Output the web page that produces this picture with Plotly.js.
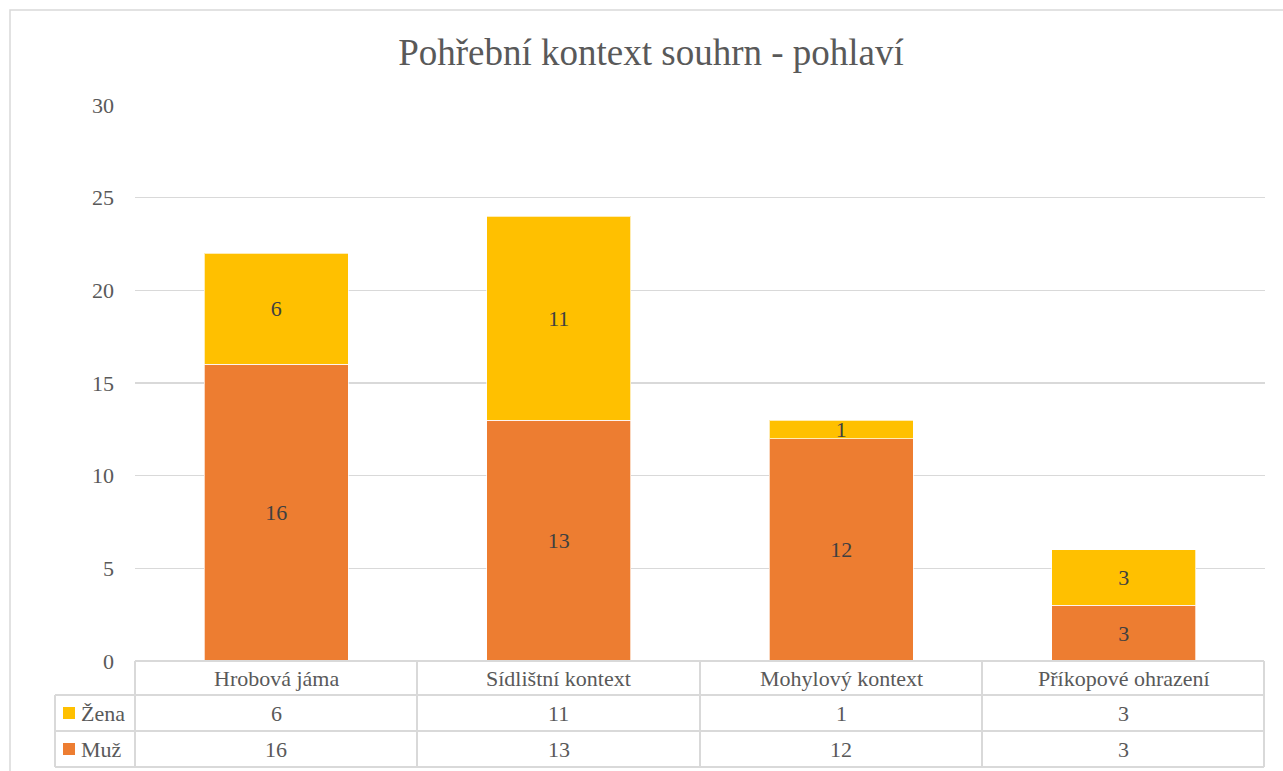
<!DOCTYPE html>
<html>
<head>
<meta charset="utf-8">
<script src="https://cdn.plot.ly/plotly-3.0.1.min.js"></script>
<style>html,body{margin:0;padding:0;background:#fff;}#chart{width:1283px;height:771px;}</style>
</head>
<body>
<div id="chart"></div>
<script>
const categories = ["Hrobová jáma", "Sídlištní kontext", "Mohylový kontext", "Příkopové ohrazení"];
const seriesNames = ["Žena", "Muž"];
const zena = [6, 11, 1, 3];
const muz = [16, 13, 12, 3];
const yTicks = [0, 5, 10, 15, 20, 25, 30];
const titleText = "Pohřební kontext souhrn - pohlaví";

const colors = { zena: "#FFC000", muz: "#ED7D31", text: "#595959", grid: "#D9D9D9", label: "#404040" };
const FONT = "'Liberation Serif', 'Times New Roman', Tinos, 'DejaVu Serif', serif";

const W = 1283, H = 771;
const L = 135, R = 1265, T = 105, B = 661;
const px = x => (x - L) / (R - L);
const py = y => (B - y) / (B - T);

const barTrace = (name, vals, color) => ({
  type: "bar", name: name, x: categories, y: vals,
  marker: { color: color, line: { color: "rgba(255,255,255,0.7)", width: 1 } },
  text: vals.map(String), textposition: "inside", insidetextanchor: "middle",
  constraintext: "none", textangle: 0,
  textfont: { family: FONT, size: 22, color: colors.label },
  hoverinfo: "skip", showlegend: false
});

const data = [barTrace(seriesNames[1], muz, colors.muz), barTrace(seriesNames[0], zena, colors.zena)];

const shapes = [];
const annotations = [];
const lineStyle = { color: colors.grid, width: 2 };
shapes.push({ type: "rect", xref: "paper", yref: "paper", x0: px(10), x1: px(1300), y0: py(790), y1: py(10), line: { color: colors.grid, width: 1.5 }, fillcolor: "rgba(0,0,0,0)", layer: "below" });
const rowY = [661, 695, 731, 767];
const colX = [135, 417, 700, 982, 1264];
shapes.push({ type: "line", xref: "paper", yref: "paper", x0: px(135), x1: px(1264), y0: py(661), y1: py(661), line: lineStyle });
for (let i = 1; i < rowY.length; i++) {
  shapes.push({ type: "line", xref: "paper", yref: "paper", x0: px(55), x1: px(1264), y0: py(rowY[i]), y1: py(rowY[i]), line: lineStyle });
}
colX.forEach(x => shapes.push({ type: "line", xref: "paper", yref: "paper", x0: px(x), x1: px(x), y0: py(661), y1: py(767), line: lineStyle }));
shapes.push({ type: "line", xref: "paper", yref: "paper", x0: px(55), x1: px(55), y0: py(695), y1: py(767), line: lineStyle });

categories.forEach((c, i) => annotations.push({ x: c, xref: "x", yref: "paper", y: py(678), text: c, showarrow: false, xanchor: "center", yanchor: "middle", font: { family: FONT, size: 22, color: colors.text } }));
const rows = [{ name: seriesNames[0], vals: zena, color: colors.zena, y: 713 }, { name: seriesNames[1], vals: muz, color: colors.muz, y: 749 }];
rows.forEach(r => {
  r.vals.forEach((v, i) => annotations.push({ x: categories[i], xref: "x", yref: "paper", y: py(r.y), text: String(v), showarrow: false, xanchor: "center", yanchor: "middle", font: { family: FONT, size: 22, color: colors.text } }));
  shapes.push({ type: "rect", xref: "paper", yref: "paper", x0: px(63), x1: px(75), y0: py(r.y + 6), y1: py(r.y - 6), fillcolor: r.color, line: { width: 0 } });
  annotations.push({ xref: "paper", yref: "paper", x: px(79), y: py(r.y), text: r.name, showarrow: false, xanchor: "left", yanchor: "middle", font: { family: FONT, size: 22, color: colors.text } });
});

const layout = {
  width: W, height: H,
  margin: { l: L, r: W - R, t: T, b: H - B, pad: 0 },
  paper_bgcolor: "#fff", plot_bgcolor: "#fff",
  barmode: "stack", bargap: 0.49,
  font: { family: FONT },
  title: { text: titleText, x: 651 / W, xref: "container", xanchor: "center", y: 1 - 52 / H, yanchor: "middle", font: { family: FONT, size: 37, color: colors.text } },
  xaxis: { type: "category", showticklabels: false, showgrid: false, zeroline: false, showline: false, ticks: "", fixedrange: true },
  yaxis: { range: [0, 30], tickvals: yTicks, ticktext: yTicks.map(String), showgrid: true, gridcolor: colors.grid, gridwidth: 1.5, zeroline: false, showline: false, ticks: "", ticklabelstandoff: 20, tickfont: { family: FONT, size: 22, color: colors.text }, fixedrange: true },
  shapes: shapes, annotations: annotations,
  showlegend: false
};

Plotly.newPlot("chart", data, layout, { displayModeBar: false, staticPlot: true });
</script>
</body>
</html>
